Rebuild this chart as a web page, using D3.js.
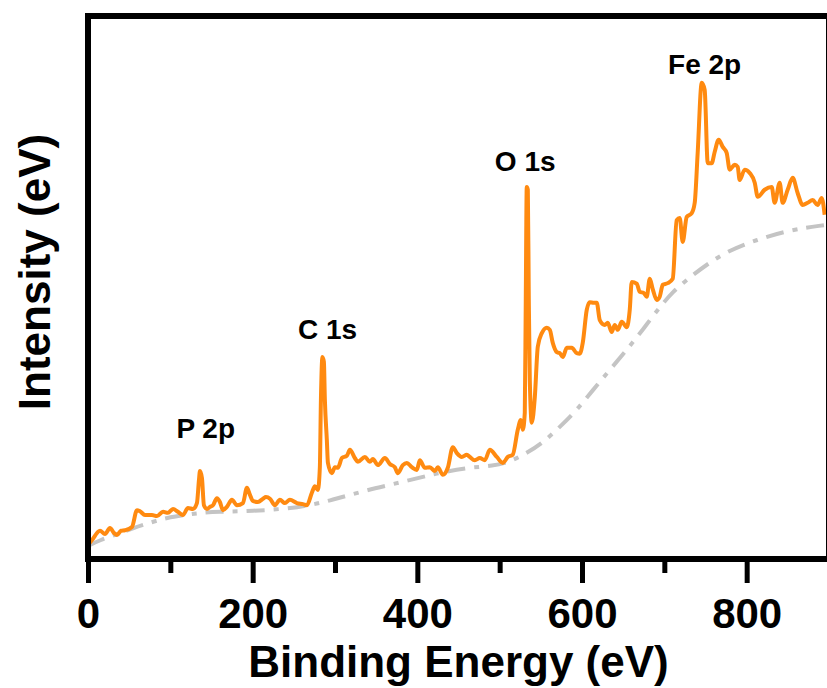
<!DOCTYPE html>
<html>
<head>
<meta charset="utf-8">
<script src="https://cdn.jsdelivr.net/npm/d3@7"></script>
<style>
  html, body { margin: 0; padding: 0; background: #fff; }
  svg { display: block; font-family: "Liberation Sans", Arial, sans-serif; }
</style>
</head>
<body>
<div id="chart"></div>
<script>
// XPS survey spectrum (energy in eV, intensity in a.u.)
const energy = [0, 4.9, 14.6, 20.6, 26.7, 31.6, 35.2, 40.1, 44.9, 53.4, 59.5, 63.1, 69.2, 77.7, 83.8, 91.1, 97.1, 103.2, 109.3, 115.3, 121.4, 127.5, 132.3, 134.8, 136.0, 138.4, 140.8, 144.5, 148.1, 151.8, 156.6, 160.2, 163.9, 168.7, 174.8, 180.9, 188.2, 193.0, 196.7, 200.3, 206.4, 212.5, 216.1, 221.0, 227.0, 233.1, 239.2, 245.2, 253.7, 261.0, 265.9, 271.9, 275.6, 279.2, 281.6, 282.9, 284.7, 286.5, 287.7, 290.1, 291.4, 296.2, 299.9, 303.5, 308.4, 314.4, 318.1, 324.1, 327.8, 336.3, 342.3, 346.0, 352.1, 360.6, 366.6, 372.7, 376.3, 382.4, 387.3, 393.3, 399.4, 403.0, 409.1, 415.2, 421.3, 424.9, 431.0, 437.0, 443.1, 448.0, 454.0, 460.1, 463.7, 469.8, 475.9, 482.0, 488.0, 496.5, 503.8, 509.9, 515.9, 522.0, 525.7, 528.1, 530.5, 531.7, 532.9, 534.2, 535.4, 536.6, 539.0, 542.7, 546.3, 551.2, 557.2, 560.9, 564.5, 569.4, 573.0, 576.7, 581.5, 587.6, 593.6, 597.3, 600.9, 605.8, 609.4, 614.3, 617.9, 621.6, 627.6, 631.3, 636.1, 639.8, 643.4, 648.3, 654.3, 658.0, 660.4, 666.5, 670.1, 675.0, 678.6, 682.3, 685.9, 690.8, 694.4, 698.1, 704.1, 710.2, 715.0, 718.7, 722.3, 727.2, 733.3, 736.9, 740.5, 745.4, 749.0, 752.7, 757.5, 761.2, 766.0, 770.9, 775.7, 779.4, 785.5, 789.1, 791.5, 797.6, 803.7, 809.8, 813.4, 821.9, 830.4, 834.0, 840.1, 843.7, 849.8, 855.9, 861.9, 868.0, 874.1, 880.2, 886.2, 891.1, 894.7];
const intensity = [2.6, 3.5, 5.2, 4.6, 5.7, 4.8, 4.4, 5.2, 5.3, 5.9, 9.0, 8.8, 8.1, 8.1, 7.9, 8.7, 8.5, 9.2, 8.7, 8.1, 9.4, 9.2, 10.3, 14.6, 16.2, 14.9, 9.9, 9.2, 9.6, 9.9, 11.2, 10.5, 9.0, 9.6, 10.9, 9.9, 10.3, 13.1, 11.8, 10.7, 10.5, 11.1, 11.4, 11.1, 9.9, 10.9, 10.3, 10.9, 10.3, 10.1, 9.9, 12.2, 13.4, 12.7, 16.9, 29.3, 37.2, 36.3, 29.3, 21.9, 17.7, 15.8, 16.9, 16.8, 18.6, 19.0, 20.1, 18.6, 17.9, 18.8, 17.9, 18.4, 17.3, 18.6, 17.5, 16.9, 15.8, 17.3, 17.7, 16.9, 16.4, 18.2, 16.8, 16.9, 16.2, 16.9, 15.5, 16.8, 20.6, 19.5, 18.8, 19.2, 18.8, 18.2, 18.6, 18.2, 20.1, 18.8, 17.7, 18.8, 19.2, 23.8, 25.6, 23.8, 26.9, 47.7, 68.5, 68.0, 47.7, 33.0, 25.1, 29.8, 39.1, 41.6, 42.6, 42.2, 39.8, 38.1, 37.9, 37.2, 38.9, 38.9, 37.9, 37.8, 39.8, 45.9, 47.3, 47.2, 47.2, 44.0, 43.1, 43.5, 41.8, 43.1, 42.2, 43.7, 42.7, 45.9, 51.0, 50.7, 49.2, 49.0, 48.3, 51.6, 49.7, 47.7, 48.3, 50.5, 50.8, 51.6, 62.4, 62.8, 58.4, 63.0, 63.7, 65.6, 74.8, 87.7, 86.4, 72.9, 72.9, 75.0, 77.2, 75.9, 74.8, 71.7, 72.6, 72.2, 69.8, 71.7, 71.1, 69.3, 66.7, 68.0, 68.5, 65.6, 69.3, 65.6, 68.0, 70.2, 67.4, 65.2, 65.6, 66.1, 65.2, 66.5, 63.4];

// Shirley-type background (dash-dot)
const bgEnergy = [0, 14.6, 36.4, 54.6, 77.7, 95.9, 117.8, 136.0, 157.8, 196.7, 257.4, 297.4, 338.7, 382.4, 423.7, 463.7, 491.7, 512.3, 533.0, 552.4, 573.0, 593.6, 613.1, 633.7, 654.3, 673.7, 694.4, 710.2, 730.8, 770.9, 812.2, 852.2, 894.7];
const bgIntensity = [2.4, 3.5, 4.6, 5.7, 6.8, 7.6, 8.1, 8.5, 8.7, 8.8, 9.4, 10.9, 12.7, 14.2, 15.8, 16.9, 17.1, 17.9, 19.5, 21.4, 24.3, 27.4, 31.1, 34.8, 38.5, 42.2, 46.4, 49.2, 51.9, 56.4, 58.8, 60.6, 61.5];

// peak annotations
const peakNames = ["P 2p", "C 1s", "O 1s", "Fe 2p"];
const peakEnergy = [143, 291, 531, 749];
const peakLabelY = [22.2, 40.5, 71.4, 89.4];

const majorTicks = [0, 200, 400, 600, 800];
const minorTicks = [100, 300, 500, 700];

const width = 827, height = 688;
const margin = { left: 88, top: 16, right: 829, bottom: 559 };

const svg = d3.select("#chart").append("svg")
    .attr("width", width)
    .attr("height", height);

const x = d3.scaleLinear().domain([0, 900]).range([margin.left, margin.right]);
const y = d3.scaleLinear().domain([0, 100]).range([margin.bottom, margin.top]);

const spectrum = energy.map((e, i) => ({ e: e, v: intensity[i] }));
const background = bgEnergy.map((e, i) => ({ e: e, v: bgIntensity[i] }));

const line = d3.line()
    .x(d => x(d.e))
    .y(d => y(d.v))
    .curve(d3.curveMonotoneX);

const bgLine = d3.line()
    .x(d => x(d.e))
    .y(d => y(d.v))
    .curve(d3.curveBasis);

svg.append("path")
    .datum(background)
    .attr("d", bgLine)
    .attr("fill", "none")
    .attr("stroke", "#c4c4c4")
    .attr("stroke-width", 4)
    .attr("stroke-dasharray", "18,9,5,9");

svg.append("path")
    .datum(spectrum)
    .attr("d", line)
    .attr("fill", "none")
    .attr("stroke", "#ff8a10")
    .attr("stroke-width", 4)
    .attr("stroke-linejoin", "round");

// bottom axis: major + minor ticks
const gx = svg.append("g").attr("transform", `translate(0,${margin.bottom})`);

gx.append("g")
    .call(d3.axisBottom(x).tickValues(minorTicks).tickSize(14).tickFormat(""))
    .call(g => g.select(".domain").remove())
    .call(g => g.selectAll("line").attr("stroke", "#000").attr("stroke-width", 5));

gx.append("g")
    .call(d3.axisBottom(x).tickValues(majorTicks).tickSize(24).tickFormat(d3.format("d")))
    .call(g => g.select(".domain").remove())
    .call(g => g.selectAll("line").attr("stroke", "#000").attr("stroke-width", 5))
    .call(g => g.selectAll("text")
        .attr("y", 69)
        .attr("dy", null)
        .attr("fill", "#000")
        .style("font-family", "'Liberation Sans', Arial, sans-serif")
        .style("font-size", "42px")
        .style("font-weight", "bold"));

// frame
svg.append("rect")
    .attr("x", margin.left)
    .attr("y", margin.top)
    .attr("width", margin.right - margin.left)
    .attr("height", margin.bottom - margin.top)
    .attr("fill", "none")
    .attr("stroke", "#000")
    .attr("stroke-width", 6);

// peak labels
svg.selectAll(".peak")
    .data(peakNames)
    .join("text")
    .attr("class", "peak")
    .attr("x", (d, i) => x(peakEnergy[i]))
    .attr("y", (d, i) => y(peakLabelY[i]))
    .attr("text-anchor", "middle")
    .style("font-size", "28px")
    .style("font-weight", "bold")
    .text(d => d);

// axis titles
svg.append("text")
    .attr("x", (margin.left + margin.right) / 2)
    .attr("y", 677)
    .attr("text-anchor", "middle")
    .style("font-size", "44px")
    .style("font-weight", "bold")
    .text("Binding Energy (eV)");

svg.append("text")
    .attr("transform", "translate(50,272) rotate(-90)")
    .attr("text-anchor", "middle")
    .style("font-size", "44px")
    .style("font-weight", "bold")
    .text("Intensity (eV)");
</script>
</body>
</html>
